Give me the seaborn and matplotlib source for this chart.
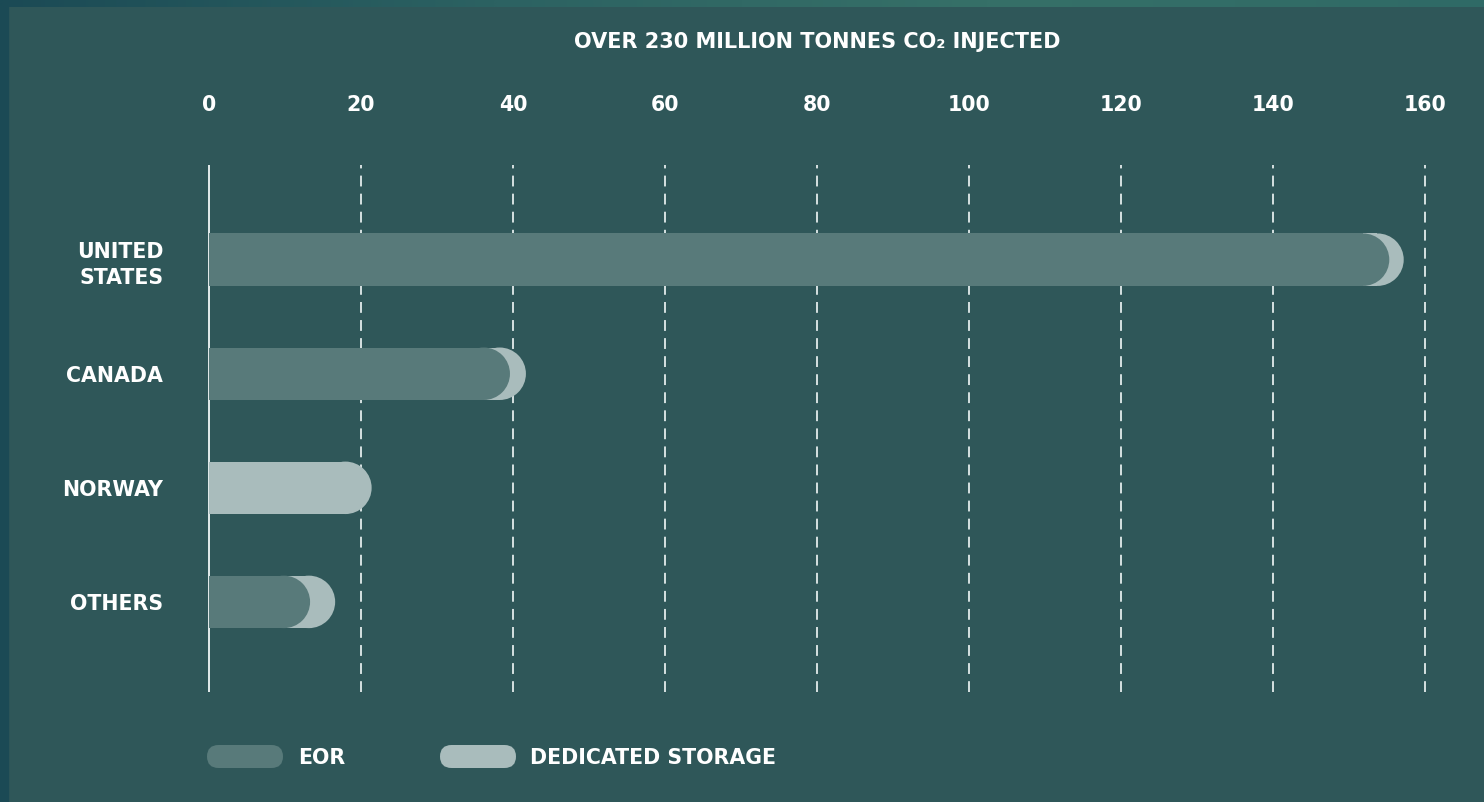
import matplotlib
matplotlib.use("Agg")
import matplotlib.pyplot as plt
import seaborn as sns
import pandas as pd
import numpy as np
from matplotlib.patches import Ellipse, Rectangle, FancyBboxPatch
from matplotlib.colors import LinearSegmentedColormap

# ---- data ----
countries = ["UNITED\nSTATES", "CANADA", "NORWAY", "OTHERS"]
eor = [155.3, 39.6, 0.0, 13.3]
dedicated = [1.9, 2.1, 21.4, 3.3]
xticks = [0, 20, 40, 60, 80, 100, 120, 140, 160]
title = "OVER 230 MILLION TONNES CO₂ INJECTED"
legend_labels = ["EOR", "DEDICATED STORAGE"]

# ---- style ----
BG = "#2f5759"
EOR_C = "#587a7a"
DED_C = "#a9bcbc"
GRID_C = "#e3ecec"
TXT = "#ffffff"
FONT = ["DejaVu Sans"]
FS = 14.8

sns.set_theme(style="white")
plt.rcParams["font.family"] = FONT

W, H, DPI = 1484, 802, 100
fig = plt.figure(figsize=(W / DPI, H / DPI), dpi=DPI, facecolor=BG)

# frame strips
fig.add_artist(Rectangle((0, 0), 8 / W, 1, transform=fig.transFigure,
                         color="#1b4a55", zorder=0))
ax_top = fig.add_axes([0, 1 - 7 / H, 1, 7 / H])
cmap = LinearSegmentedColormap.from_list("g", ["#1b4a55", "#2c6262", "#367068", "#2f6a66"])
ax_top.imshow(np.linspace(0, 1, 512)[None, :], cmap=cmap, aspect="auto")
ax_top.axis("off")

# main axes (pixel layout)
x0_px, x160_px = 209, 1425
ppu = (x160_px - x0_px) / 160.0
xmin, xmax = -2, 162
left_px = x0_px + xmin * ppu
right_px = x0_px + xmax * ppu
top_px, bot_px = 165, 692
ax = fig.add_axes([left_px / W, 1 - bot_px / H, (right_px - left_px) / W, (bot_px - top_px) / H])
ax.set_facecolor(BG)

df = pd.DataFrame({"country": countries, "eor": eor, "dedicated": dedicated})
df["total"] = df["eor"] + df["dedicated"]

bw = 0.46
sns.barplot(data=df, x="total", y="country", color=DED_C, width=bw, ax=ax,
            saturation=1, orient="h", zorder=3)
sns.barplot(data=df, x="eor", y="country", color=EOR_C, width=bw, ax=ax,
            saturation=1, orient="h", zorder=4)

ylo, yhi = 3.79, -0.83
ax.set_xlim(xmin, xmax)
ax.set_ylim(ylo, yhi)

# rounded right caps
fig.canvas.draw()
ypx_per_unit = (bot_px - top_px) / (ylo - yhi)
r_px = bw * ypx_per_unit / 2
rx = r_px / ppu
for p in list(ax.patches):
    w = p.get_width()
    if w <= 0:
        p.set_visible(False)
        continue
    y = p.get_y()
    h = p.get_height()
    p.set_width(w - rx)
    e = Ellipse((w - rx, y + h / 2), 2 * rx, h, facecolor=p.get_facecolor(),
                edgecolor="none", zorder=p.get_zorder())
    ax.add_patch(e)
    p.set_edgecolor("none")
    p.set_linewidth(0)

# grid lines
for t in xticks:
    if t == 0:
        ax.axvline(t, color=GRID_C, lw=1.4, zorder=1)
    else:
        ax.axvline(t, color=GRID_C, lw=1.3, ls=(0, (6, 4)), zorder=1)

for s in ax.spines.values():
    s.set_visible(False)
ax.xaxis.tick_top()
ax.set_xticks(xticks)
ax.set_xticklabels([str(t) for t in xticks], fontsize=FS, fontweight="bold", color=TXT)
ax.tick_params(axis="x", length=0, pad=36)
ax.tick_params(axis="y", length=0, pad=22)
for lab in ax.get_yticklabels():
    lab.set_fontsize(FS)
    lab.set_fontweight("bold")
    lab.set_color(TXT)
    lab.set_multialignment("right")
    lab.set_linespacing(1.4)
ax.set_xlabel("")
ax.set_ylabel("")

# title
fig.text(817 / W, 1 - 42 / H, title, ha="center", va="center", fontsize=FS + 0.2,
         fontweight="bold", color=TXT)

# legend (pills + text)
for (xl, xr, col), lab, tx in zip([(207, 283, EOR_C), (440, 516, DED_C)], legend_labels, [298, 530]):
    y_b = (H - 768) / DPI
    hh = 23 / DPI
    pill = FancyBboxPatch((xl / DPI, y_b), (xr - xl) / DPI, hh,
                          boxstyle="round,pad=0,rounding_size=%f" % (hh / 2),
                          transform=fig.dpi_scale_trans, facecolor=col, edgecolor="none")
    fig.add_artist(pill)
    fig.text(tx / W, 1 - 758 / H, lab, ha="left", va="center", fontsize=FS,
             fontweight="bold", color=TXT)

fig.savefig("out.png", dpi=DPI, facecolor=BG)
